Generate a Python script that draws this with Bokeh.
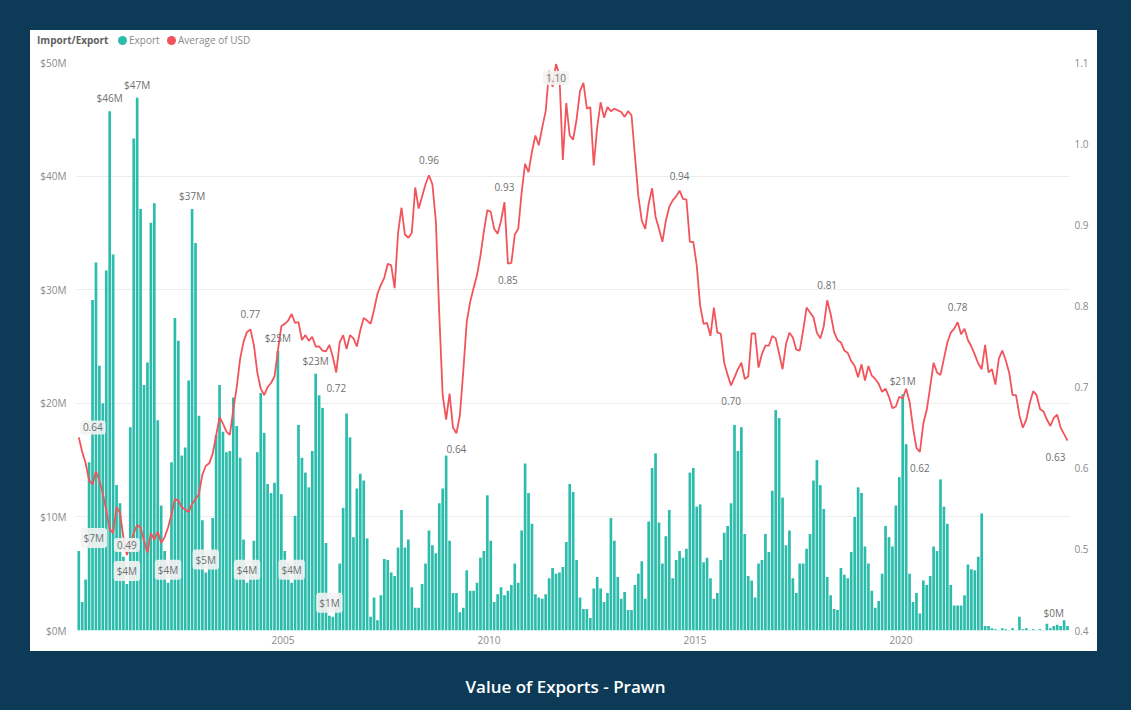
import pandas as pd
from bokeh.plotting import figure
from bokeh.models import (Range1d, LinearAxis, FixedTicker, PrintfTickFormatter,
                          ColumnDataSource, Div)
from bokeh.layouts import column, row
from bokeh.core.properties import value
from bokeh.embed import file_html
from bokeh.resources import INLINE

# ---------------------------------------------------------------- data
first_month = "2000-01"

# monthly prawn export value, $ millions
export_musd = [
    7.0, 2.5, 4.5, 14.8, 29.1, 32.4, 23.3, 20.0, 31.7, 45.7,
    33.1, 12.8, 11.2, 6.5, 4.1, 17.9, 43.3, 46.9, 37.1, 21.6,
    23.6, 35.9, 37.6, 18.5, 11.0, 7.0, 4.2, 14.8, 27.5, 25.5,
    15.4, 16.1, 22.0, 37.1, 34.1, 18.9, 9.7, 5.1, 6.5, 9.9,
    17.2, 21.6, 17.5, 15.7, 15.8, 20.5, 18.0, 15.2, 8.0, 4.2,
    5.5, 7.9, 15.7, 20.9, 17.4, 12.9, 12.1, 13.0, 24.6, 12.0,
    7.0, 5.9, 4.2, 10.1, 18.1, 15.2, 13.9, 12.6, 15.8, 22.6,
    20.7, 19.6, 7.7, 1.3, 1.2, 2.6, 5.9, 10.8, 19.1, 17.0,
    8.2, 12.5, 13.8, 13.2, 8.1, 1.2, 2.9, 0.9, 3.1, 6.3,
    6.2, 5.1, 4.8, 7.3, 10.6, 7.3, 8.0, 3.8, 2.0, 2.0,
    4.1, 5.9, 8.8, 7.5, 6.8, 11.2, 12.5, 15.4, 7.9, 3.3,
    3.3, 1.6, 2.0, 5.3, 3.5, 3.5, 4.2, 6.4, 7.0, 11.9,
    7.9, 2.5, 3.2, 3.8, 3.1, 3.5, 4.0, 5.9, 4.2, 8.8,
    14.7, 12.1, 9.4, 3.2, 2.9, 2.8, 3.2, 4.6, 5.5, 5.0,
    5.1, 5.6, 7.8, 12.9, 12.2, 6.2, 2.9, 1.9, 1.9, 1.1,
    3.7, 4.7, 3.7, 2.5, 3.3, 9.9, 7.9, 4.7, 2.8, 3.4,
    1.8, 1.8, 4.0, 5.0, 6.1, 2.8, 9.6, 14.3, 15.6, 9.5,
    5.9, 8.3, 10.6, 4.6, 6.2, 7.0, 6.4, 7.2, 13.9, 14.3,
    10.9, 11.1, 6.0, 6.4, 4.6, 2.8, 3.3, 6.2, 8.6, 9.2,
    11.2, 18.1, 15.8, 17.9, 8.5, 4.8, 4.4, 2.9, 5.9, 6.2,
    8.5, 6.9, 12.3, 19.4, 18.7, 11.7, 7.5, 8.8, 4.6, 3.3,
    5.9, 5.9, 7.2, 8.5, 13.2, 15.0, 12.8, 10.7, 4.7, 3.1,
    1.9, 1.8, 5.5, 4.9, 4.6, 6.9, 10.0, 12.6, 12.1, 7.4,
    5.9, 3.5, 2.0, 2.6, 5.0, 9.2, 8.2, 7.4, 11.0, 13.5,
    20.8, 16.4, 5.0, 2.5, 3.3, 1.5, 4.4, 4.0, 4.8, 7.4,
    7.0, 13.3, 10.9, 9.4, 4.0, 2.2, 2.2, 2.2, 3.1, 5.8,
    5.4, 5.3, 6.5, 10.3, 0.4, 0.4, 0.2, 0.1, 0.05, 0.2,
    0.1, 0.05, 0.2, 0.05, 1.2, 0.1, 0.2, 0.05, 0.1, 0.05,
    0.1, 0.05, 0.6, 0.2, 0.4, 0.5, 0.4, 0.9, 0.4,
]

# monthly average price in USD
avg_usd = [
    0.638, 0.620, 0.606, 0.585, 0.580, 0.596, 0.585, 0.569, 0.548, 0.525,
    0.520, 0.552, 0.545, 0.515, 0.493, 0.505, 0.520, 0.530, 0.527, 0.511,
    0.496, 0.520, 0.512, 0.522, 0.508, 0.515, 0.527, 0.543, 0.562, 0.560,
    0.552, 0.549, 0.546, 0.556, 0.562, 0.568, 0.592, 0.603, 0.606, 0.618,
    0.640, 0.663, 0.655, 0.645, 0.641, 0.672, 0.700, 0.735, 0.756, 0.768,
    0.771, 0.752, 0.718, 0.698, 0.690, 0.700, 0.705, 0.713, 0.745, 0.775,
    0.778, 0.782, 0.790, 0.779, 0.780, 0.758, 0.764, 0.757, 0.762, 0.750,
    0.750, 0.745, 0.744, 0.752, 0.737, 0.718, 0.755, 0.764, 0.747, 0.764,
    0.760, 0.750, 0.770, 0.785, 0.782, 0.778, 0.795, 0.815, 0.826, 0.835,
    0.852, 0.850, 0.822, 0.890, 0.921, 0.888, 0.884, 0.890, 0.946, 0.920,
    0.935, 0.950, 0.961, 0.950, 0.905, 0.790, 0.690, 0.660, 0.692, 0.650,
    0.643, 0.665, 0.720, 0.780, 0.805, 0.822, 0.838, 0.862, 0.892, 0.918,
    0.916, 0.895, 0.889, 0.905, 0.928, 0.852, 0.853, 0.888, 0.895, 0.940,
    0.975, 0.965, 0.990, 1.010, 0.998, 1.020, 1.040, 1.090, 1.070, 1.098,
    1.085, 0.980, 1.050, 1.010, 1.005, 1.030, 1.065, 1.075, 1.043, 1.045,
    0.973, 1.020, 1.051, 1.032, 1.045, 1.040, 1.043, 1.041, 1.039, 1.033,
    1.040, 1.035, 0.985, 0.935, 0.905, 0.895, 0.926, 0.945, 0.910, 0.895,
    0.879, 0.905, 0.922, 0.930, 0.935, 0.942, 0.932, 0.931, 0.879, 0.879,
    0.850, 0.800, 0.778, 0.779, 0.763, 0.798, 0.767, 0.766, 0.730, 0.715,
    0.702, 0.712, 0.722, 0.730, 0.710, 0.713, 0.766, 0.766, 0.724, 0.741,
    0.751, 0.751, 0.763, 0.760, 0.741, 0.722, 0.753, 0.767, 0.761, 0.746,
    0.745, 0.770, 0.798, 0.792, 0.786, 0.767, 0.760, 0.775, 0.807, 0.790,
    0.768, 0.758, 0.755, 0.745, 0.742, 0.732, 0.726, 0.712, 0.728, 0.708,
    0.726, 0.714, 0.710, 0.704, 0.694, 0.698, 0.688, 0.674, 0.676, 0.688,
    0.686, 0.698, 0.682, 0.650, 0.625, 0.620, 0.655, 0.672, 0.700, 0.730,
    0.718, 0.715, 0.735, 0.755, 0.767, 0.772, 0.780, 0.765, 0.772, 0.758,
    0.750, 0.740, 0.729, 0.722, 0.752, 0.718, 0.722, 0.703, 0.735, 0.745,
    0.733, 0.718, 0.690, 0.690, 0.665, 0.650, 0.660, 0.680, 0.695, 0.690,
    0.673, 0.670, 0.660, 0.652, 0.662, 0.666, 0.650, 0.642, 0.634,
]

export_ticks = [0, 10, 20, 30, 40, 50]
usd_ticks = [0.4, 0.5, 0.6, 0.7, 0.8, 0.9, 1.0, 1.1]
year_ticks = [2005, 2010, 2015, 2020]

series_names = ["Export", "Average of USD"]
legend_title = "Import/Export"

# months that carry a data label
export_labelled = [0, 9, 14, 17, 26, 33, 37, 49, 58, 62, 69, 73, 240, 284]
export_boxed = [0, 14, 26, 37, 49, 62, 73]
usd_above = [0, 14, 50, 102, 124, 175, 218, 256]
usd_below = [75, 110, 125, 139, 190, 245, 288]
usd_boxed = [0, 14, 139]
label_shift = {("e", 0): 15, ("u", 0): 14, ("u", 288): -12}

# ---------------------------------------------------------------- styling
NAVY = "#0c3a57"
TEAL = "#2cbcab"
RED = "#f2545b"
GREY_TXT = "#8a8a8a"
LABEL_TXT = "#6f6f6f"
FONT = "Open Sans"

months = pd.date_range(first_month, periods=len(export_musd), freq="MS")
xs = [m.year + (m.month - 0.5) / 12 for m in months]

src = ColumnDataSource(dict(x=xs, export=export_musd, usd=avg_usd))

p = figure(width=1067, height=597,
           x_range=Range1d(1999.986, 2024.09), y_range=Range1d(0, 50),
           output_backend="svg", toolbar_location=None,
           min_border_left=46, min_border_right=28,
           min_border_top=8, min_border_bottom=21,
           background_fill_color="white", border_fill_color="white",
           outline_line_color=None, margin=0,
           styles={"background-color": "white"})
p.extra_y_ranges = {"usd": Range1d(0.4, 1.1)}

# axes
p.xaxis.ticker = FixedTicker(ticks=year_ticks)
p.yaxis.ticker = FixedTicker(ticks=export_ticks)
p.yaxis.formatter = PrintfTickFormatter(format="$%dM")
right = LinearAxis(y_range_name="usd", ticker=FixedTicker(ticks=usd_ticks),
                   formatter=PrintfTickFormatter(format="%.1f"))
p.add_layout(right, "right")

for ax in (p.xaxis[0], p.yaxis[0], right):
    ax.axis_line_color = None
    ax.major_tick_line_color = None
    ax.minor_tick_line_color = None
    ax.major_tick_out = 0
    ax.major_tick_in = 0
    ax.major_label_text_color = GREY_TXT
    ax.major_label_text_font = FONT
    ax.major_label_text_font_size = "10px"
p.xaxis.major_label_standoff = 5
p.yaxis[0].major_label_standoff = 10
right.major_label_standoff = 5

p.xgrid.grid_line_color = None
p.ygrid.ticker = FixedTicker(ticks=export_ticks)
p.ygrid.grid_line_color = "#ececec"
p.ygrid.grid_line_width = 1

# bars and line
p.vbar(x="x", top="export", bottom=0, width=0.78 / 12, source=src,
       fill_color=TEAL, line_color=None)
p.line(x="x", y="usd", source=src, y_range_name="usd",
       line_color=RED, line_width=1.8)

# data labels
def label_rows(kind, idxs, vals, fmt, dy):
    return dict(
        x=[xs[i] for i in idxs],
        y=[vals[i] for i in idxs],
        t=[fmt(vals[i]) for i in idxs],
        dx=[label_shift.get((kind, i), 0) for i in idxs],
        dy=[dy] * len(idxs),
    )

def merge(*parts):
    out = {k: [] for k in parts[0]}
    for part in parts:
        for k in out:
            out[k].extend(part[k])
    return out

fmt_e = lambda v: "${:.0f}M".format(v)
fmt_u = lambda v: "{:.2f}".format(v)

e_plain = [i for i in export_labelled if i not in export_boxed]
e_box = [i for i in export_labelled if i in export_boxed]

u_ab_plain = [i for i in usd_above if i not in usd_boxed]
u_ab_box = [i for i in usd_above if i in usd_boxed]
u_be_plain = [i for i in usd_below if i not in usd_boxed]
u_be_box = [i for i in usd_below if i in usd_boxed]

text_kw = dict(text_align="center", text_baseline="middle",
               text_font=value(FONT), text_font_size="10px",
               text_color=LABEL_TXT)
box_kw = dict(background_fill_color="#f3f3f3", background_fill_alpha=0.9,
              padding=3, border_radius=3)

p.text(x="x", y="y", text="t", x_offset="dx", y_offset="dy",
       source=ColumnDataSource(label_rows("e", e_plain, export_musd, fmt_e, -13)),
       **text_kw)
p.text(x="x", y="y", text="t", x_offset="dx", y_offset="dy",
       source=ColumnDataSource(label_rows("e", e_box, export_musd, fmt_e, -13)),
       **text_kw, **box_kw)
p.text(x="x", y="y", text="t", x_offset="dx", y_offset="dy",
       source=ColumnDataSource(merge(
           label_rows("u", u_ab_plain, avg_usd, fmt_u, -15),
           label_rows("u", u_be_plain, avg_usd, fmt_u, 16))),
       y_range_name="usd", **text_kw)
p.text(x="x", y="y", text="t", x_offset="dx", y_offset="dy",
       source=ColumnDataSource(merge(
           label_rows("u", u_ab_box, avg_usd, fmt_u, -10),
           label_rows("u", u_be_box, avg_usd, fmt_u, 14))),
       y_range_name="usd", **text_kw, **box_kw)

# legend strip above the chart
def dot(color, left):
    return ('<span style="position:absolute;left:%dpx;top:6px;width:9px;'
            'height:9px;border-radius:50%%;background:%s;"></span>' % (left, color))

def word(text, left, color, weight=400):
    return ('<span style="position:absolute;left:%dpx;top:3px;color:%s;'
            'font-weight:%d;white-space:nowrap;">%s</span>' % (left, color, weight, text))

key_html = (
    '<div style="position:relative;width:1067px;height:24px;'
    'font-family:\'Open Sans\';font-size:10px;line-height:14px;">'
    + word(legend_title, 7, "#5f5f5f", 700)
    + dot(TEAL, 88) + word(series_names[0], 99, GREY_TXT)
    + dot(RED, 137) + word(series_names[1], 148, GREY_TXT)
    + '</div>'
)
key = Div(text=key_html, width=1067, height=24, margin=0,
          styles={"background-color": "white"})

# page frame
pad = dict(margin=0)
top = Div(text="", width=1131, height=30,
          styles={"background-color": NAVY}, **pad)
left = Div(text="", width=30, height=621,
           styles={"background-color": NAVY}, **pad)
right_pad = Div(text="", width=34, height=621,
                styles={"background-color": NAVY}, **pad)
title = Div(
    text='<div style="padding-top:25px;text-align:center;width:1131px;'
         'line-height:22px;">Value of Exports - Prawn</div>',
    width=1131, height=59,
    styles={"background-color": NAVY, "color": "white",
            "font-family": FONT, "font-size": "17px", "font-weight": "600"},
    **pad)

chart = column(key, p, spacing=0, margin=0)
page = column(top, row(left, chart, right_pad, spacing=0, margin=0), title,
              spacing=0, margin=0)

open("out.html", "w").write(file_html(page, INLINE))
